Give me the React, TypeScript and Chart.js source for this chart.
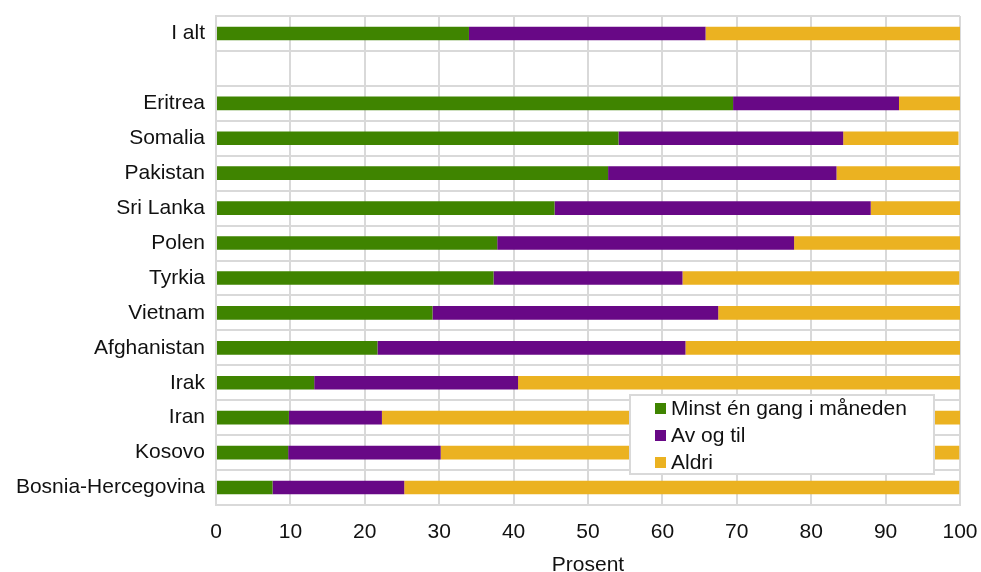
import React, { useEffect, useRef } from "react";
import { Chart, registerables } from "chart.js";

Chart.register(...registerables);

const categories = [
  "I alt",
  "",
  "Eritrea",
  "Somalia",
  "Pakistan",
  "Sri Lanka",
  "Polen",
  "Tyrkia",
  "Vietnam",
  "Afghanistan",
  "Irak",
  "Iran",
  "Kosovo",
  "Bosnia-Hercegovina",
];

const seriesNames = ["Minst én gang i måneden", "Av og til", "Aldri"];

const minstEnGang = [34.0, null, 69.5, 54.1, 52.7, 45.5, 37.8, 37.3, 29.1, 21.7, 13.2, 9.8, 9.7, 7.6];
const avOgTil = [31.8, null, 22.3, 30.2, 30.7, 42.5, 39.9, 25.4, 38.4, 41.4, 27.4, 12.5, 20.5, 17.7];
const aldri = [34.2, null, 8.2, 15.5, 16.6, 12.0, 22.3, 37.2, 32.5, 36.9, 59.4, 77.7, 69.7, 74.6];

const xTicks = [0, 10, 20, 30, 40, 50, 60, 70, 80, 90, 100];
const xTitle = "Prosent";

const colors = ["#3f8400", "#680886", "#ebb221"];
const FONT = "'Liberation Sans', Arial, sans-serif";
const FS = 21;
const GRID = "#d9d9d9";

const boxLegend = {
  id: "boxLegend",
  afterDraw(chart: any) {
    const { ctx, chartArea } = chart;
    const w = 304;
    const h = 79;
    const x = chartArea.right - 26 - w;
    const y = chartArea.bottom - 110;
    ctx.save();
    ctx.fillStyle = "#ffffff";
    ctx.fillRect(x, y, w, h);
    ctx.strokeStyle = GRID;
    ctx.lineWidth = 2;
    ctx.strokeRect(x, y, w, h);
    ctx.font = `${FS}px ${FONT}`;
    ctx.textBaseline = "middle";
    ctx.textAlign = "left";
    chart.data.datasets.forEach((ds: any, i: number) => {
      const cy = y + 13.5 + i * 27;
      ctx.fillStyle = ds.backgroundColor;
      ctx.fillRect(x + 25, cy - 5.5, 11, 11);
      ctx.fillStyle = "#111111";
      ctx.fillText(ds.label, x + 41, cy + 1);
    });
    ctx.restore();
  },
};

export default function App() {
  const ref = useRef<HTMLCanvasElement | null>(null);

  useEffect(() => {
    if (!ref.current) return;
    const data = [minstEnGang, avOgTil, aldri];
    const chart = new Chart(ref.current, {
      type: "bar",
      data: {
        labels: categories,
        datasets: seriesNames.map((name, i) => ({
          label: name,
          data: data[i],
          backgroundColor: colors[i],
          borderWidth: 0,
          barPercentage: 0.39,
          categoryPercentage: 1,
        })),
      },
      options: {
        indexAxis: "y",
        responsive: false,
        animation: false,
        maintainAspectRatio: false,
        layout: { padding: { top: 16, right: 21, left: 0, bottom: 0 } },
        plugins: {
          legend: { display: false },
          tooltip: { enabled: false },
        },
        scales: {
          x: {
            stacked: true,
            min: 0,
            max: 100,
            afterBuildTicks: (axis: any) => {
              axis.ticks = xTicks.map((v) => ({ value: v }));
            },
            grid: { color: GRID, lineWidth: 2, drawTicks: false },
            border: { color: GRID, width: 2 },
            ticks: {
              color: "#111111",
              font: { family: FONT, size: FS },
              padding: 15,
              maxRotation: 0,
            },
            title: {
              display: true,
              text: xTitle,
              color: "#111111",
              font: { family: FONT, size: FS },
              padding: { top: 0, bottom: -6 },
            },
            afterFit: (axis: any) => {
              axis.height = 67;
              axis.paddingLeft = 0;
              axis.paddingRight = 0;
            },
          },
          y: {
            stacked: true,
            grid: { color: GRID, lineWidth: 2, drawTicks: false, offset: true },
            border: { color: GRID, width: 2 },
            ticks: {
              color: "#111111",
              font: { family: FONT, size: FS },
              padding: 11,
              autoSkip: false,
            },
            afterFit: (axis: any) => {
              axis.width = 216;
              axis.paddingTop = 0;
              axis.paddingBottom = 0;
            },
          },
        },
      },
      plugins: [boxLegend],
    } as any);
    return () => chart.destroy();
  }, []);

  return (
    <div style={{ position: "absolute", left: 0, top: 0, width: 981, height: 572, background: "#fff", overflow: "hidden" }}>
      <canvas ref={ref} width={981} height={572} />
    </div>
  );
}
